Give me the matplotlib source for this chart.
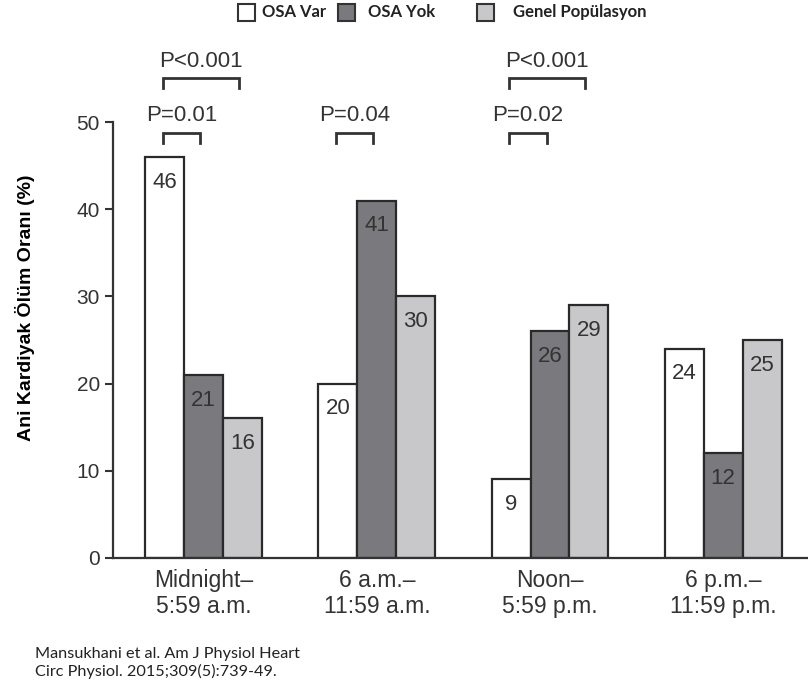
import numpy as np
import matplotlib.pyplot as plt
from matplotlib.patches import Rectangle

periods = ["Midnight–\n5:59 a.m.", "6 a.m.–\n11:59 a.m.", "Noon–\n5:59 p.m.", "6 p.m.–\n11:59 p.m."]
series_names = ["OSA Var", "OSA Yok", "Genel Popülasyon"]
osa_var = [46, 20, 9, 24]
osa_yok = [21, 41, 26, 12]
genel = [16, 30, 29, 25]
colors = ["#ffffff", "#7a7a7e", "#c8c8ca"]

# (group, bar a, bar b, level, label)
pvalues = [
    (0, 0, 1, 47.6, "P=0.01"),
    (0, 0, 2, 53.9, "P<0.001"),
    (1, 0, 1, 47.6, "P=0.04"),
    (2, 0, 1, 47.6, "P=0.02"),
    (2, 0, 2, 53.9, "P<0.001"),
]

plt.rcParams['font.family'] = ['Liberation Sans', 'DejaVu Sans']
ink = "#333333"
W, H = 808, 682

fig = plt.figure(figsize=(8.08, 6.82), dpi=100)
ax = fig.add_axes([0.14, 0.182, 0.86, 0.639])

x = np.arange(len(periods))
w = 0.225
offsets = [-w, 0, w]
for vals, off, c in zip([osa_var, osa_yok, genel], offsets, colors):
    bars = ax.bar(x + off, vals, w, color=c, edgecolor="#2a2a2a", linewidth=1.6)
    for b, v in zip(bars, vals):
        ax.text(b.get_x() + b.get_width() / 2, v - 2.9, str(v), ha="center", va="center",
                fontsize=16, color=ink)

for g, a, b, lvl, lab in pvalues:
    xa = x[g] + offsets[a] - 0.01
    xb = x[g] + offsets[b] - 0.02
    ax.plot([xa, xa, xb, xb], [lvl, lvl + 1.1, lvl + 1.1, lvl], color=ink, lw=2,
            clip_on=False, solid_joinstyle="miter")
    ax.text((xa + xb) / 2, lvl + 3.1, lab, ha="center", va="center", fontsize=16,
            color=ink)

ax.set_xlim(-0.523, 3.49)
ax.set_ylim(0, 50)
ax.set_yticks([0, 10, 20, 30, 40, 50])
ax.set_xticks(x)
ax.set_xticklabels(periods, fontsize=16.5, color=ink, linespacing=1.15)
ax.tick_params(axis="x", length=0, pad=8)
ax.tick_params(axis="y", labelsize=15, labelcolor=ink, length=6, width=1.5, color=ink)
for s in ["top", "right"]:
    ax.spines[s].set_visible(False)
for s in ["left", "bottom"]:
    ax.spines[s].set_linewidth(1.6)
    ax.spines[s].set_color(ink)
ax.set_ylabel("Ani Kardiyak Ölüm Oranı (%)", fontsize=14, fontweight="bold")
ax.yaxis.set_label_coords(-0.113, 0.573)

# legend, laid out by hand to keep the uneven gaps
leg_x = [238, 338, 477]
txt_x = [262, 368, 513]
for lx, tx, c, name in zip(leg_x, txt_x, colors, series_names):
    fig.add_artist(Rectangle((lx / W, 1 - 21 / H), 17 / W, 17 / H, facecolor=c,
                             edgecolor="#333333", linewidth=1.5,
                             transform=fig.transFigure))
    fig.text(tx / W, 1 - 12 / H, name, ha="left", va="center", family="Lato",
             fontweight="bold", fontsize=12, color="#222222")

fig.text(35 / W, 1 - 679 / H, "Mansukhani et al. Am J Physiol Heart\nCirc Physiol. 2015;309(5):739-49.",
         fontsize=11.7, family="Lato", color="#222222", linespacing=1.25, va="bottom")

fig.savefig("out.png", dpi=100)
